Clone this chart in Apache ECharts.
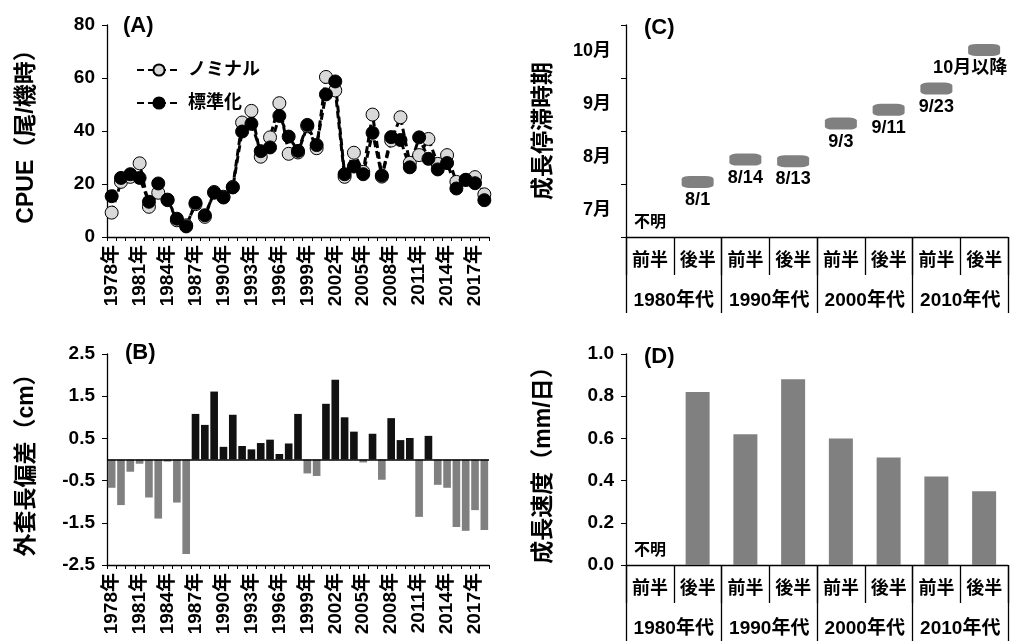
<!DOCTYPE html>
<html>
<head>
<meta charset="utf-8">
<title>CPUE・外套長偏差・成長停滞時期・成長速度</title>
<script src="https://cdn.jsdelivr.net/npm/echarts@6.0.0/dist/echarts.min.js"></script>
<style>
  html, body { margin: 0; padding: 0; background: #fff; }
  #chart { width: 1011px; height: 641px; }
</style>
</head>
<body>
<div id="chart"></div>
<script>
  // (A)(B) 年
  var years = ['1978年', '1979年', '1980年', '1981年', '1982年', '1983年', '1984年', '1985年', '1986年', '1987年',
    '1988年', '1989年', '1990年', '1991年', '1992年', '1993年', '1994年', '1995年', '1996年', '1997年',
    '1998年', '1999年', '2000年', '2001年', '2002年', '2003年', '2004年', '2005年', '2006年', '2007年',
    '2008年', '2009年', '2010年', '2011年', '2012年', '2013年', '2014年', '2015年', '2016年', '2017年', '2018年'];
  // (A) CPUE
  var cpueNominal = [9.2, 20.8, 22.7, 27.8, 11.4, 16.7, 13.9, 6.3, 4.4, 12.4,
    7.6, 17.0, 15.2, 18.9, 43.2, 47.6, 30.3, 37.6, 50.5, 31.4,
    31.9, 41.8, 33.5, 60.4, 55.3, 22.7, 31.8, 24.6, 46.2, 22.8,
    36.4, 45.2, 28.0, 30.9, 37.0, 27.6, 30.9, 20.8, 21.5, 22.6, 16.1];
  var cpueStd = [15.4, 22.3, 23.7, 22.3, 13.3, 20.2, 14.1, 6.9, 4.0, 12.9,
    8.2, 16.7, 14.9, 18.7, 39.8, 42.7, 32.4, 33.8, 45.7, 37.9,
    32.5, 42.3, 34.7, 53.8, 58.7, 23.7, 26.6, 23.7, 39.3, 23.2,
    37.7, 36.6, 26.3, 37.6, 29.5, 25.5, 27.9, 18.3, 21.6, 20.3, 13.9];
  // (B) 外套長偏差
  var mantleDev = [-0.67, -1.08, -0.29, -0.10, -0.90, -1.40, -0.05, -1.02, -2.24, 1.08,
    0.82, 1.61, 0.30, 1.06, 0.32, 0.24, 0.39, 0.47, 0.13, 0.38,
    1.08, -0.33, -0.39, 1.32, 1.89, 1.00, 0.66, -0.07, 0.61, -0.48,
    0.98, 0.46, 0.51, -1.36, 0.56, -0.60, -0.67, -1.60, -1.69, -1.20, -1.67];
  var devTicks = [-2.5, -1.5, -0.5, 0.5, 1.5, 2.5];
  // (C)(D) 年代
  var halves = ['前半', '後半', '前半', '後半', '前半', '後半', '前半', '後半'];
  var decades = ['1980年代', '1990年代', '2000年代', '2010年代'];
  var months = ['7月', '8月', '9月', '10月'];
  // 7月1日からの月数
  var stopValues = [null, 1.04, 1.46, 1.43, 2.14, 2.40, 2.80, 3.53];
  var stopLabels = ['', '8/1', '8/14', '8/13', '9/3', '9/11', '9/23', '10月以降'];
  var growthRate = [null, 0.82, 0.62, 0.88, 0.60, 0.51, 0.42, 0.35];
  var unknownText = '不明';

  var FONT = '"Liberation Sans", "Noto Sans CJK JP", sans-serif';
  var axisLine = { show: true, lineStyle: { color: '#000', width: 1.3 } };

  function label(size, extra) {
    var o = { color: '#000', fontFamily: FONT, fontWeight: 'bold', fontSize: size };
    for (var k in extra) o[k] = extra[k];
    return o;
  }

  function yearAxis(grid) {
    return {
      type: 'category', gridIndex: grid, data: years, position: 'bottom',
      axisLine: { show: true, onZero: false, lineStyle: { color: '#000', width: 1.3 } },
      axisTick: { show: true, interval: 0, length: 4, lineStyle: { color: '#000' } },
      axisLabel: label(19, { interval: 2, rotate: 90, margin: 8 })
    };
  }

  function halfAxis(grid) {
    return {
      type: 'category', gridIndex: grid, data: halves, position: 'bottom',
      axisLine: axisLine,
      axisTick: { show: true, interval: 0, length: 38, lineStyle: { color: '#000', width: 1.3 } },
      axisLabel: label(18, { interval: 0, margin: 15 })
    };
  }

  function decadeAxis(grid) {
    return {
      type: 'category', gridIndex: grid, data: decades, position: 'bottom',
      axisLine: { show: false },
      axisTick: { show: true, interval: 0, length: 76, lineStyle: { color: '#000', width: 1.3 } },
      axisLabel: label(19, { interval: 0, margin: 54 })
    };
  }

  function panelTitle(text, left, top) {
    return { text: text, left: left, top: top, textStyle: { color: '#000', fontFamily: FONT, fontWeight: 'bold', fontSize: 22 } };
  }

  // 不明ラベル用（点は描かない）
  function unknownSeries(xi, yi) {
    return {
      type: 'scatter', xAxisIndex: xi, yAxisIndex: yi, data: [[0, 0]],
      symbolSize: 1, itemStyle: { color: 'rgba(0,0,0,0)', opacity: 1 },
      silent: true,
      label: label(16, { show: true, position: 'top', distance: 6, formatter: unknownText })
    };
  }

  var nameStyle = label(23, {});

  var chart = echarts.init(document.getElementById('chart'));
  var option = {
    animation: false,
    backgroundColor: '#fff',
    title: [
      panelTitle('(A)', 118, 10),
      panelTitle('(B)', 120, 337),
      panelTitle('(C)', 639, 12),
      panelTitle('(D)', 639, 341)
    ],
    legend: {
      data: ['ノミナル', '標準化'],
      orient: 'vertical', left: 131, top: 56,
      itemWidth: 44, itemHeight: 14, itemGap: 15,
      selectedMode: false,
      textStyle: label(18, { padding: [0, 0, 0, 2] })
    },
    grid: [
      { left: 107, top: 25, right: 522, bottom: 404 },
      { left: 107, top: 354, right: 522, bottom: 76 },
      { left: 626, top: 25, right: 3, bottom: 404 },
      { left: 626, top: 354, right: 3, bottom: 76 }
    ],
    xAxis: [
      yearAxis(0),
      yearAxis(1),
      halfAxis(2),
      decadeAxis(2),
      halfAxis(3),
      decadeAxis(3)
    ],
    yAxis: [
      {
        type: 'value', gridIndex: 0, min: 0, max: 80, interval: 20,
        name: 'CPUE（尾/機時）', nameLocation: 'middle', nameGap: 69, nameTextStyle: nameStyle,
        axisLine: axisLine,
        axisTick: { show: true, length: 5, lineStyle: { color: '#000' } },
        axisLabel: label(19, { margin: 12 }),
        splitLine: { show: false }
      },
      {
        type: 'value', gridIndex: 1, min: -2.5, max: 2.5,
        name: '外套長偏差（cm）', nameLocation: 'middle', nameGap: 69, nameTextStyle: nameStyle,
        axisLine: axisLine,
        axisTick: { show: true, length: 5, customValues: devTicks, lineStyle: { color: '#000' } },
        axisLabel: label(19, { margin: 12, customValues: devTicks }),
        splitLine: { show: false }
      },
      {
        type: 'value', gridIndex: 2, min: 0, max: 4, interval: 1, position: 'left',
        name: '成長停滞時期', nameLocation: 'middle', nameGap: 71, nameTextStyle: nameStyle,
        axisLine: axisLine,
        axisTick: { show: true, length: 5, lineStyle: { color: '#000' } },
        axisLabel: { show: false },
        splitLine: { show: false }
      },
      {
        type: 'category', gridIndex: 2, data: months, position: 'left', boundaryGap: true,
        axisLine: { show: false }, axisTick: { show: false },
        axisLabel: label(18, { margin: 15 })
      },
      {
        type: 'value', gridIndex: 3, min: 0, max: 1, interval: 0.2,
        name: '成長速度（mm/日）', nameLocation: 'middle', nameGap: 71, nameTextStyle: nameStyle,
        axisLine: axisLine,
        axisTick: { show: true, length: 5, lineStyle: { color: '#000' } },
        axisLabel: label(19, { margin: 12, formatter: function (v) { return v.toFixed(1); } }),
        splitLine: { show: false }
      }
    ],
    series: [
      {
        name: 'ノミナル', type: 'line', xAxisIndex: 0, yAxisIndex: 0, data: cpueNominal,
        symbol: 'circle', symbolSize: 13, showAllSymbol: true,
        lineStyle: { color: '#000', width: 3, type: [7, 4] },
        itemStyle: { color: '#d9d9d9', borderColor: '#000', borderWidth: 1 }
      },
      {
        name: '標準化', type: 'line', xAxisIndex: 0, yAxisIndex: 0, data: cpueStd,
        symbol: 'circle', symbolSize: 13, showAllSymbol: true,
        lineStyle: { color: '#000', width: 3, type: [7, 4] },
        itemStyle: { color: '#000', borderColor: '#000', borderWidth: 1 }
      },
      {
        type: 'bar', xAxisIndex: 1, yAxisIndex: 1, data: mantleDev, barWidth: '82%',
        itemStyle: { color: function (p) { return p.value >= 0 ? '#111' : '#808080'; } },
        markLine: {
          silent: true, symbol: 'none', label: { show: false },
          lineStyle: { color: '#000', width: 1.5, type: 'solid' },
          data: [{ yAxis: 0 }]
        }
      },
      {
        type: 'scatter', xAxisIndex: 2, yAxisIndex: 2,
        data: stopValues.map(function (v, i) {
          if (v == null) return null;
          var d = { value: [i, v] };
          // 右端のラベルは枠内に収める
          if (i === stopValues.length - 1) {
            d.label = { show: true, position: 'bottom', distance: 3, offset: [-14, 0] };
          }
          return d;
        }).filter(function (d) { return d; }),
        symbol: 'roundRect', symbolSize: [32, 12],
        itemStyle: { color: '#808080', opacity: 1 },
        label: label(18, {
          show: true, position: 'bottom', distance: 3,
          formatter: function (p) { return stopLabels[p.value[0]]; }
        })
      },
      unknownSeries(2, 2),
      {
        type: 'bar', xAxisIndex: 4, yAxisIndex: 4, data: growthRate, barWidth: 24,
        itemStyle: { color: '#808080' }
      },
      unknownSeries(4, 4)
    ]
  };
  chart.setOption(option);
  window.addEventListener('resize', function () {
    chart.resize();
  });
</script>
</body>
</html>
